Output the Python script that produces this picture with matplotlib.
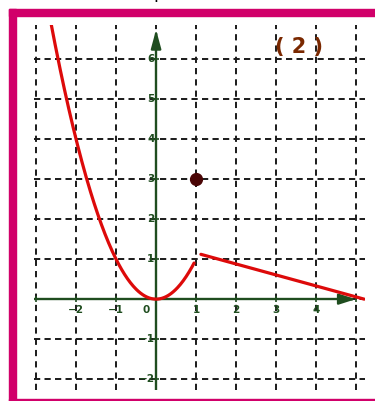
import numpy as np
import matplotlib.pyplot as plt
from matplotlib.patches import Rectangle

# data
x_ticks = [-3, -2, -1, 0, 1, 2, 3, 4, 5]
y_ticks = [-2, -1, 0, 1, 2, 3, 4, 5, 6]
x_labels = ["−2", "−1", "1", "2", "3", "4"]
x_label_pos = [-2, -1, 1, 2, 3, 4]
y_labels = ["−2", "−1", "1", "2", "3", "4", "5", "6"]
y_label_pos = [-2, -1, 1, 2, 3, 4, 5, 6]

# f(x) = x^2 on the left piece
parab_x = np.linspace(-2.65, 0.95, 200)
parab_y = parab_x ** 2
# straight piece on the right
seg_x = [1.12, 5.2]
seg_y = [1.12, 0.0]
# isolated point
pt_x, pt_y = 1, 3

green = "#1f4d1f"
red = "#dd0a0a"
magenta = "#d1006a"

fig = plt.figure(figsize=(3.75, 4.01), dpi=100)
W, H = 375, 401
ax = fig.add_axes([34 / W, (H - 390) / H, (365 - 34) / W, (390 - 25) / H])
ax.set_xlim(-3.05, 5.22)
ax.set_ylim(-2.27, 6.85)
ax.set_axis_off()

# dashed grid
for x in x_ticks:
    ax.axvline(x, color="#1a1a1a", lw=1.4, ls=(0, (3.2, 2.6)), zorder=1)
for y in y_ticks:
    ax.axhline(y, color="#1a1a1a", lw=1.4, ls=(0, (3.2, 2.2)), zorder=1)

# axes with arrows
ax.plot([-3.05, 4.85], [0, 0], color=green, lw=1.7, zorder=3)
ax.plot([0, 0], [-2.27, 6.55], color=green, lw=1.7, zorder=3)
ax.annotate("", xy=(5.06, 0), xytext=(4.8, 0),
            arrowprops=dict(arrowstyle="-|>,head_length=1.0,head_width=0.32",
                            color=green, lw=1.7), zorder=3)
ax.annotate("", xy=(0, 6.8), xytext=(0, 6.5),
            arrowprops=dict(arrowstyle="-|>,head_length=1.1,head_width=0.3",
                            color=green, lw=1.7), zorder=3)
ax.plot(x_ticks, [0] * len(x_ticks), "|", color=green, ms=4, mew=1.2, zorder=3)
ax.plot([0] * len(y_ticks), y_ticks, "_", color=green, ms=4, mew=1.2, zorder=3)

# tick labels
for xp, lab in zip(x_label_pos, x_labels):
    ax.text(xp, -0.27, lab, ha="center", va="center", fontsize=7.5,
            fontweight="bold", color=green, zorder=4)
ax.text(-0.24, -0.27, "0", ha="center", va="center", fontsize=7.5,
        fontweight="bold", color=green, zorder=4)
for yp, lab in zip(y_label_pos, y_labels):
    ax.text(-0.04, yp, lab, ha="right", va="center", fontsize=7.5,
            fontweight="bold", color=green, zorder=4)

# the function
ax.plot(parab_x, parab_y, color=red, lw=2.3, solid_capstyle="round", zorder=5)
ax.plot(seg_x, seg_y, color=red, lw=2.3, solid_capstyle="round", zorder=5)
ax.plot(pt_x, pt_y, "o", color="#4a0505", ms=8.5, zorder=6)

ax.text(3.58, 6.3, "( 2 )", ha="center", va="center", fontsize=15,
        fontweight="bold", color="#7a2800", zorder=6)

# magenta frame
fig.patches.append(Rectangle((9 / W, 0), 7 / W, (H - 9) / H, transform=fig.transFigure,
                             color=magenta, zorder=10))
fig.patches.append(Rectangle((9 / W, (H - 16) / H), (W - 9) / W, 7 / H,
                             transform=fig.transFigure, color=magenta, zorder=10))
fig.patches.append(Rectangle((9 / W, 0), (W - 9) / W, 2.5 / H,
                             transform=fig.transFigure, color=magenta, zorder=10))

# descender of the cropped text above
fig.text(153 / W, 1 + 1.5 / H, "p", ha="left", va="baseline", fontsize=13, color="black")

fig.savefig("out.png", dpi=100)
